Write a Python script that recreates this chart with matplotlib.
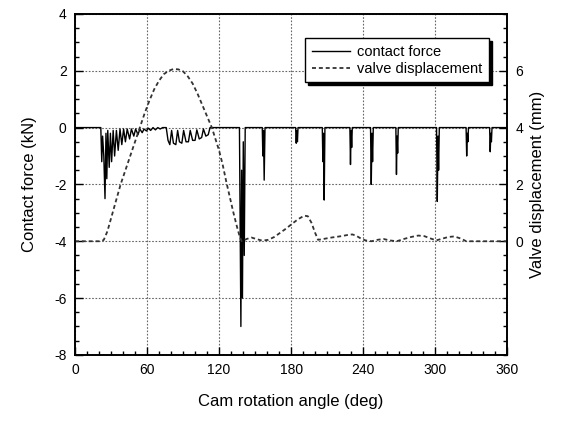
import matplotlib
matplotlib.use('Agg')
import matplotlib.pyplot as plt
from matplotlib.ticker import MultipleLocator, FixedLocator

plt.rcParams['font.family'] = ['Liberation Sans', 'DejaVu Sans']
plt.rcParams['axes.unicode_minus'] = False

# Contact force (kN) vs cam angle (deg)
force_angle = [0, 21.5, 22.3, 23, 24, 25, 25.8, 26.5, 27.3, 28.5, 29.5, 30.5, 31.8, 33, 34.5,
               36, 37.5, 39, 40.5, 42, 43.5, 45.5, 47, 49, 50.5, 52.5, 54, 56, 57.5, 59.5,
               61, 63, 65, 67, 69, 71, 73, 76, 77.5, 79, 80.5, 82, 84, 85.5, 87, 89, 90.5,
               92.5, 94.5, 96, 98, 100, 101.5, 103.5, 105.5, 107, 109, 111, 112.5,
               137, 138.2, 138.8, 139.5, 140.2, 141, 141.8,
               156, 156.5, 157, 157.6, 158.3,
               183.8, 184.3, 184.8, 185.3, 185.8,
               206, 206.5, 207, 207.6, 208.2,
               229, 229.5, 230, 230.5, 231,
               246.2, 246.8, 247.4, 247.9, 248.5,
               267.3, 267.8, 268.3, 268.8, 269.3,
               301.2, 301.8, 302.4, 302.9, 303.5,
               325.8, 326.3, 326.8, 327.3, 327.8,
               345.4, 345.9, 346.4, 346.9, 347.4,
               360]
force_kn = [0, 0, -1.2, -0.3, -1.0, -2.5, -0.2, -1.8, -0.1, -1.4, -0.2, -1.2, -0.1, -1.0, -0.1,
            -0.8, -0.05, -0.6, -0.05, -0.5, -0.05, -0.4, -0.05, -0.3, -0.05, -0.25, -0.05, -0.18, -0.05, -0.12,
            -0.02, -0.1, 0, -0.08, 0, -0.05, 0, 0, -0.45, -0.6, -0.1, -0.55, -0.6, -0.1, -0.5, -0.55, -0.1,
            -0.5, -0.5, -0.1, -0.45, -0.45, -0.08, -0.4, -0.35, -0.05, -0.3, -0.25, 0,
            0, -7.0, -1.5, -6.0, -0.5, -4.5, 0,
            0, -1.0, -0.1, -1.85, 0,
            0, -0.55, -0.1, -0.5, 0,
            0, -1.2, -0.2, -2.55, 0,
            0, -1.3, -0.1, -0.7, 0,
            0, -2.0, -0.2, -1.2, 0,
            0, -1.65, -0.3, -0.9, 0,
            0, -2.6, -0.3, -1.5, 0,
            0, -1.0, -0.2, -0.5, 0,
            0, -0.85, -0.2, -0.5, 0,
            0]

# Valve displacement (mm) vs cam angle (deg)
valve_angle = [0, 22, 24, 27, 30, 34, 38, 42, 46, 50, 54, 58, 62, 66, 70, 74, 78, 82, 86, 90,
               94, 98, 102, 106, 110, 114, 117, 120, 123, 126, 129, 132, 135, 137.5, 139,
               143, 147, 151, 156, 161, 166, 171, 176, 181, 186, 191, 194, 197, 200, 202.5,
               207, 212, 217, 222, 227, 231, 234, 238, 242, 247, 252, 257, 262, 268, 274,
               280, 286, 291, 296, 301, 305, 311, 316, 321, 326, 360]
valve_mm = [0, 0, 0.05, 0.35, 0.8, 1.4, 2.0, 2.5, 3.0, 3.5, 4.0, 4.5, 4.95, 5.35, 5.65, 5.88, 6.0, 6.06, 6.05, 5.98,
            5.8, 5.55, 5.2, 4.8, 4.4, 4.0, 3.6, 3.2, 2.7, 2.1, 1.55, 1.0, 0.5, 0.12, 0,
            0.08, 0.13, 0.08, 0.02, 0.05, 0.15, 0.3, 0.45, 0.62, 0.78, 0.9, 0.88, 0.65, 0.3, 0.05,
            0.08, 0.12, 0.15, 0.18, 0.22, 0.24, 0.2, 0.1, 0.03, 0.0, 0.05, 0.08, 0.03, 0.0, 0.08,
            0.15, 0.2, 0.18, 0.1, 0.03, 0.08, 0.15, 0.17, 0.1, 0.0, 0]

fig = plt.figure(figsize=(5.66, 4.22), dpi=100)
ax = fig.add_axes([0.1325, 0.159, 0.7635, 0.808])
ax2 = ax.twinx()

l1, = ax.plot(force_angle, force_kn, color='black', lw=1.0, label='contact force')
l2, = ax2.plot(valve_angle, valve_mm, color='#333333', lw=1.3, ls=(0, (2.2, 1.6)),
               label='valve displacement')

ax.set_xlim(0, 360)
ax.set_ylim(-8, 4)
ax2.set_ylim(-4, 8)

ax.xaxis.set_major_locator(MultipleLocator(60))
ax.xaxis.set_minor_locator(MultipleLocator(10))
ax.yaxis.set_major_locator(MultipleLocator(2))
ax.yaxis.set_minor_locator(MultipleLocator(0.5))
ax2.yaxis.set_major_locator(FixedLocator([0, 2, 4, 6]))
ax2.yaxis.set_minor_locator(MultipleLocator(0.5))

ax.tick_params(which='both', direction='in', labelsize=10, pad=6)
ax.tick_params(which='major', length=6, width=1)
ax.tick_params(which='minor', length=3, width=1)
ax2.tick_params(which='both', direction='in', labelsize=10, pad=6)
ax2.tick_params(which='major', length=6, width=1)
ax2.tick_params(which='minor', length=3, width=1)

ax.grid(True, which='major', color='#666666', ls=(0, (1.5, 1.5)), lw=0.8)

for a in (ax, ax2):
    for s in a.spines.values():
        s.set_linewidth(1.2)

ax.set_xlabel('Cam rotation angle (deg)', fontsize=12, labelpad=12)
ax.set_ylabel('Contact force (kN)', fontsize=12, labelpad=12)
ax2.set_ylabel('Valve displacement (mm)', fontsize=12, labelpad=5)

leg = ax2.legend(handles=[l1, l2], loc='upper right', bbox_to_anchor=(0.975, 0.95),
                 fontsize=10.5, fancybox=False, edgecolor='black', framealpha=1,
                 shadow={'color': 'black', 'alpha': 1}, handlelength=2.6,
                 handletextpad=0.5, borderpad=0.45, labelspacing=0.2)
leg.get_frame().set_linewidth(1.0)

plt.savefig('out.png', dpi=100)
